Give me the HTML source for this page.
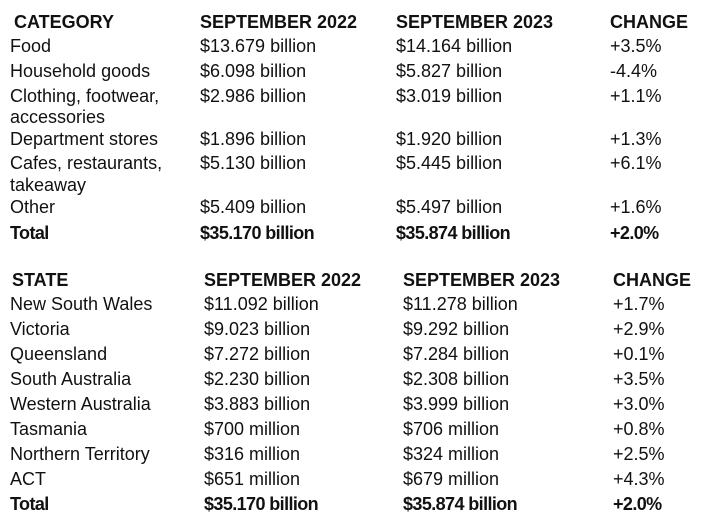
<!DOCTYPE html>
<html><head><meta charset="utf-8"><style>
body{margin:0;background:#fff;width:708px;height:525px;overflow:hidden;position:relative;font-family:"Liberation Sans",Arial,sans-serif;color:#111;}
.c{position:absolute;font-size:18px;line-height:20px;white-space:nowrap;}
.b{font-weight:bold;}
.t{font-weight:bold;letter-spacing:-0.6px;}
</style></head><body>
<div id="root"></div>
<script>
const catRows=[
["h","CATEGORY","SEPTEMBER 2022","SEPTEMBER 2023","CHANGE",22],
["n","Food","$13.679 billion","$14.164 billion","+3.5%",46],
["n","Household goods","$6.098 billion","$5.827 billion","-4.4%",71],
["n","Clothing, footwear,","$2.986 billion","$3.019 billion","+1.1%",96],
["n","accessories","","","",117],
["n","Department stores","$1.896 billion","$1.920 billion","+1.3%",139],
["n","Cafes, restaurants,","$5.130 billion","$5.445 billion","+6.1%",163],
["n","takeaway","","","",185],
["n","Other","$5.409 billion","$5.497 billion","+1.6%",207],
["t","Total","$35.170 billion","$35.874 billion","+2.0%",233]];
const stRows=[
["h","STATE","SEPTEMBER 2022","SEPTEMBER 2023","CHANGE",280],
["n","New South Wales","$11.092 billion","$11.278 billion","+1.7%",304],
["n","Victoria","$9.023 billion","$9.292 billion","+2.9%",329],
["n","Queensland","$7.272 billion","$7.284 billion","+0.1%",354],
["n","South Australia","$2.230 billion","$2.308 billion","+3.5%",379],
["n","Western Australia","$3.883 billion","$3.999 billion","+3.0%",404],
["n","Tasmania","$700 million","$706 million","+0.8%",429],
["n","Northern Territory","$316 million","$324 million","+2.5%",454],
["n","ACT","$651 million","$679 million","+4.3%",479],
["t","Total","$35.170 billion","$35.874 billion","+2.0%",504]];
const root=document.getElementById('root');
function draw(rows,xs,hx,prefix){
 rows.forEach((r,i)=>{
  for(let k=1;k<=4;k++){
   if(!r[k])continue;
   const d=document.createElement('div');
   d.className='c'+(r[0]==='h'?' b':r[0]==='t'?' t':'');
   d.style.left=((k===1&&r[0]==='h')?hx:xs[k-1])+'px';
   d.style.top=(r[5]-10)+'px';
   d.textContent=r[k];
   
   
   root.appendChild(d);
  }
 });
}
draw(catRows,[10,200,396,610],14,'category');
draw(stRows,[10,204,403,613],12,'state');
</script>
</body></html>
